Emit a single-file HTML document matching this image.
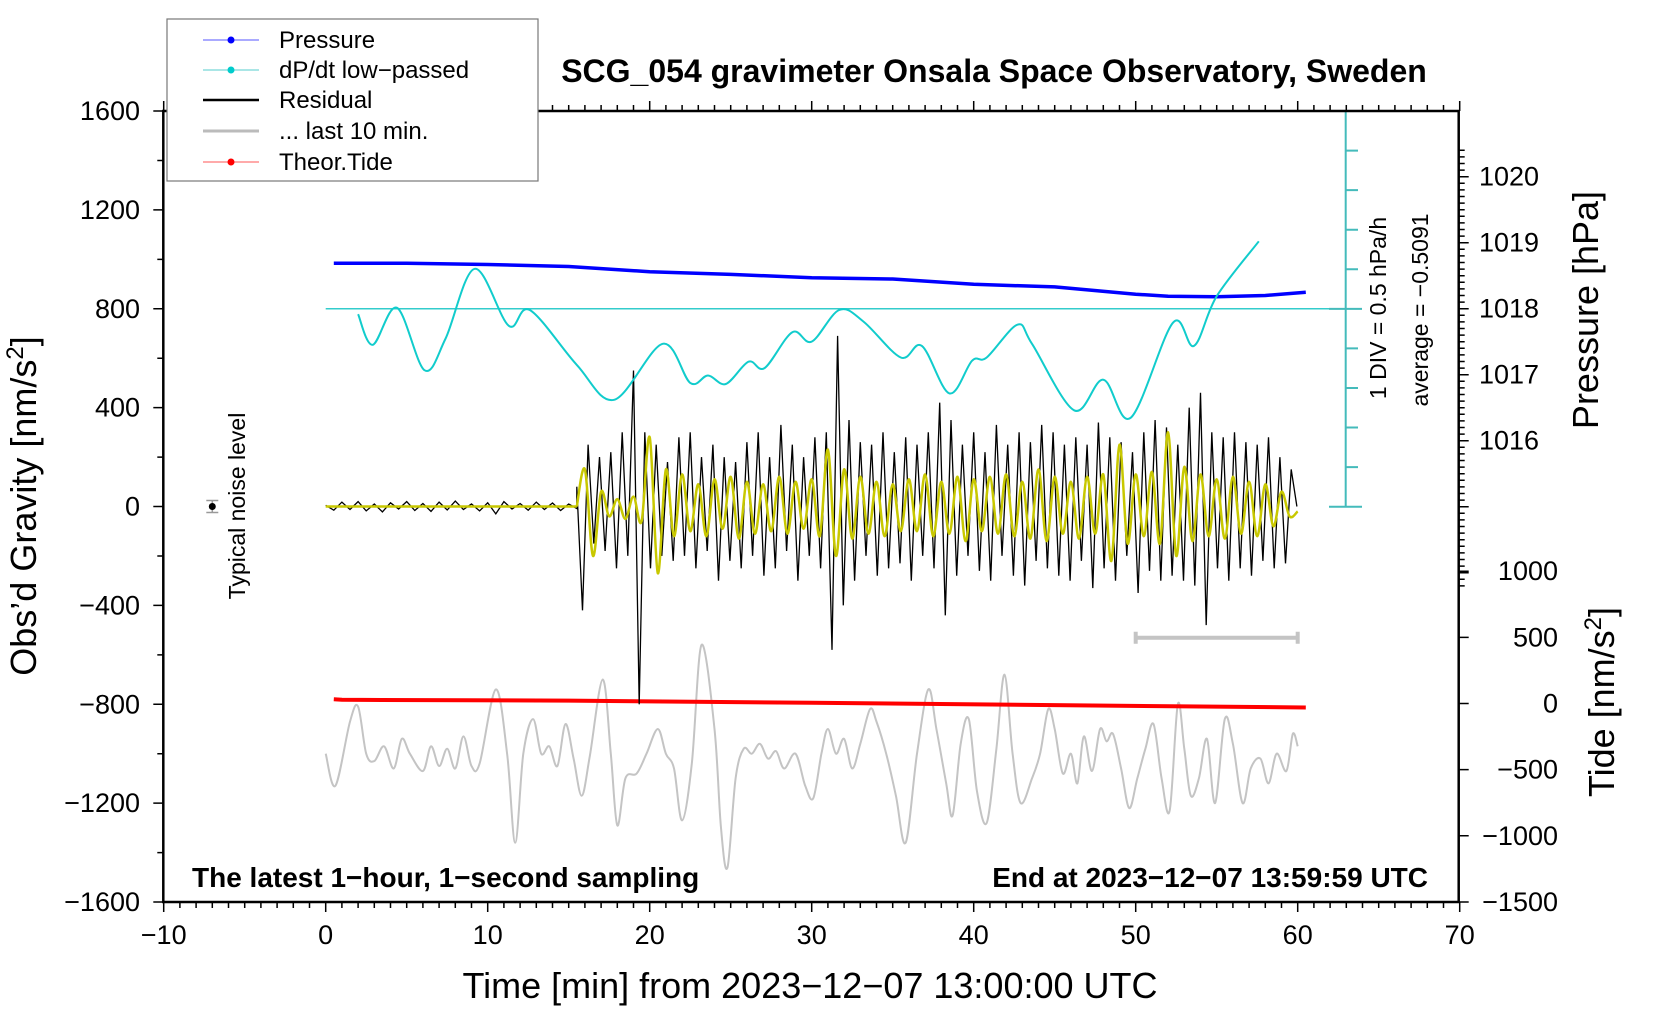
<!DOCTYPE html>
<html><head><meta charset="utf-8"><style>
html,body{margin:0;padding:0;background:#fff;}
svg{display:block;font-family:"Liberation Sans",sans-serif;}
</style></head><body>
<svg id="chart" width="1660" height="1020" viewBox="0 0 1660 1020" xmlns="http://www.w3.org/2000/svg">
<g id="marks"></g>
<g id="axes"></g>
<text x="994" y="82" font-size="32" font-weight="bold" text-anchor="middle">SCG_054 gravimeter Onsala Space Observatory, Sweden</text>
<text x="192" y="887" font-size="28" font-weight="bold">The latest 1−hour, 1−second sampling</text>
<text x="1428" y="887" font-size="28" font-weight="bold" text-anchor="end">End at 2023−12−07 13:59:59 UTC</text>
<text x="810" y="998" font-size="36" text-anchor="middle">Time [min] from 2023−12−07 13:00:00 UTC</text>
<text transform="translate(36,506) rotate(-90)" font-size="36" text-anchor="middle">Obs’d Gravity [nm/s<tspan baseline-shift="super" font-size="24">2</tspan>]</text>
<text transform="translate(1598,310) rotate(-90)" font-size="36" text-anchor="middle">Pressure [hPa]</text>
<text transform="translate(1614,702) rotate(-90)" font-size="36" text-anchor="middle">Tide [nm/s<tspan baseline-shift="super" font-size="24">2</tspan>]</text>
<text transform="translate(1386,308) rotate(-90)" font-size="23" text-anchor="middle">1 DIV = 0.5 hPa/h</text>
<text transform="translate(1428,310) rotate(-90)" font-size="23" text-anchor="middle">average = −0.5091</text>
<text transform="translate(245,506) rotate(-90)" font-size="23" text-anchor="middle">Typical noise level</text>
<g>
<rect x="167" y="19" width="371" height="162" fill="#fff" stroke="#777" stroke-width="1.2"/>
<g><line x1="203" y1="40" x2="259" y2="40" stroke="#55f" stroke-width="1"/><circle cx="231" cy="40" r="3.5" fill="#00f"/><text x="279" y="48" font-size="24">Pressure</text></g>
<g><line x1="203" y1="70" x2="259" y2="70" stroke="#5cc" stroke-width="1"/><circle cx="231" cy="70" r="3.5" fill="#0cc"/><text x="279" y="78" font-size="24">dP/dt low−passed</text></g>
<g><line x1="203" y1="100" x2="259" y2="100" stroke="#000" stroke-width="2.5"/><text x="279" y="108" font-size="24">Residual</text></g>
<g><line x1="203" y1="131" x2="259" y2="131" stroke="#bbb" stroke-width="3"/><text x="279" y="139" font-size="24">... last 10 min.</text></g>
<g><line x1="203" y1="162" x2="259" y2="162" stroke="#f55" stroke-width="1"/><circle cx="231" cy="162" r="3.5" fill="#f00"/><text x="279" y="170" font-size="24">Theor.Tide</text></g>
</g>
</svg>
<script>
// ---- data ----
const pressureTimes = [0.5, 5, 10, 15, 20, 25, 30, 35, 40, 45, 50, 52, 55, 58, 60.5];
const pressureValues = [1018.69, 1018.69, 1018.67, 1018.64, 1018.56, 1018.52, 1018.47, 1018.45, 1018.37, 1018.33, 1018.22, 1018.19, 1018.18, 1018.2, 1018.25];
const dpdtTimes = [2.0,2.9,4.4,6.1,7.4,9.2,11.3,12.6,15.5,17.8,20.8,22.5,23.6,24.7,26.1,27.1,28.8,30.0,31.7,33.2,35.5,36.8,38.5,39.9,40.8,42.7,43.6,46.2,48.0,49.7,52.3,53.6,55.0,57.6];
const dpdtValues = [-0.579,-0.966,-0.498,-1.287,-0.886,-0.004,-0.726,-0.525,-1.220,-1.662,-0.953,-1.448,-1.355,-1.462,-1.180,-1.260,-0.806,-0.926,-0.525,-0.672,-1.127,-0.980,-1.581,-1.167,-1.127,-0.712,-0.953,-1.795,-1.408,-1.889,-0.686,-0.980,-0.351,0.344];
const dpdtAverage = -0.5091;
const quietResidual = [5,-15,18,-12,20,-18,10,-22,15,-10,20,-16,12,-20,18,-14,22,-12,10,-18,15,-30,20,-10,12,-15,18,-12,14,-16,10,-8];
const activeResidual = [80,-420,250,-150,200,-180,220,-250,300,-200,550,-800,300,-250,250,-200,180,-220,280,-200,300,-250,200,-180,250,-300,200,-220,180,-250,260,-200,300,-280,200,-250,330,-180,250,-300,200,-200,280,-250,300,-580,690,-400,350,-300,260,-200,250,-280,300,-250,220,-230,280,-300,250,-200,300,-250,420,-440,350,-280,250,-200,300,-260,220,-300,330,-200,250,-280,300,-320,260,-220,330,-250,300,-280,250,-300,280,-220,250,-330,340,-250,280,-300,260,-200,220,-350,300,-260,350,-300,320,-280,250,-300,400,-320,460,-480,300,-250,280,-300,300,-250,260,-280,250,-220,280,-250,200,-230,150,0];
const filteredResidual = [0,150,-200,60,-40,30,-50,40,-60,280,-270,150,-120,130,-100,90,-120,110,-90,120,-130,100,-110,90,-100,120,-110,100,-90,110,-120,230,-200,150,-130,120,-110,100,-120,90,-100,110,-100,130,-120,100,-110,120,-140,110,-100,120,-110,130,-120,100,-130,150,-140,120,-110,100,-130,120,-110,130,-220,250,-150,130,-120,140,-150,300,-200,160,-140,130,-120,110,-130,120,-110,100,-120,90,-80,60,-40,-20];
const lastTimes = [0,0.6,1.5,2.0,2.5,3.0,3.6,4.2,4.7,5.2,6.0,6.5,7.0,7.5,8.0,8.5,9.0,9.5,10.5,11.2,11.7,12.2,12.8,13.3,13.8,14.3,14.8,15.3,15.8,16.3,17.1,17.6,18.0,18.5,19.2,19.8,20.5,21,21.5,22,22.6,23.2,24.0,24.4,24.8,25.3,25.8,26.3,26.8,27.3,27.8,28.3,29.0,29.6,30.1,30.6,31.0,31.5,32.0,32.5,33.0,33.6,34.0,34.6,35.2,35.8,36.5,37.2,37.7,38.3,38.7,39.2,39.7,40.2,40.8,41.4,41.9,42.4,42.9,43.6,44.1,44.6,45.0,45.5,46.0,46.4,46.8,47.3,47.8,48.2,48.6,49.1,49.6,50.1,50.6,51.1,51.6,52.1,52.6,53.0,53.4,53.9,54.4,54.9,55.5,56.0,56.6,57.1,57.7,58.2,58.7,59.3,59.7,60.0];
const lastValues = [-1000,-1130,-870,-810,-1000,-1030,-970,-1060,-940,-1000,-1070,-970,-1050,-980,-1060,-930,-1050,-1040,-740,-1000,-1360,-1000,-860,-1000,-970,-1050,-880,-1020,-1170,-1010,-700,-1000,-1290,-1100,-1080,-1000,-900,-1000,-1060,-1270,-1040,-560,-900,-1300,-1460,-1100,-980,-1000,-960,-1020,-990,-1060,-1000,-1130,-1180,-1000,-900,-1000,-940,-1060,-960,-820,-870,-1000,-1170,-1360,-1000,-740,-900,-1120,-1250,-960,-860,-1150,-1280,-980,-680,-1000,-1200,-1100,-1000,-820,-900,-1080,-1000,-1120,-930,-1070,-900,-950,-920,-1060,-1220,-1100,-980,-880,-1100,-1230,-800,-980,-1170,-1100,-940,-1200,-860,-960,-1200,-1060,-1020,-1120,-1000,-1070,-920,-970];
const tideTimes = [0.5, 1, 15, 30, 45, 60.5];
const tideValues = [32, 28, 22, 5, -12, -30];
const xTicks = [-10,0,10,20,30,40,50,60,70];
const yTicks = [-1600,-1200,-800,-400,0,400,800,1200,1600];
const pTicks = [1016,1017,1018,1019,1020];
const tTicks = [-1500,-1000,-500,0,500,1000];

// ---- scales ----
const X0=163.3, X1=1458.7, Y0=111, Y1=902;
const xs = t => 325.7 + 16.2*t;
const yg = g => 506.5 - g*(Y1-Y0)/3200;
const yp = p => 308.7 - (p-1018)*66;
const yt = v => 703.5 - v*0.1323;
const yd = v => 308.7 - (v-dpdtAverage)/0.5*39.5;
const NS='http://www.w3.org/2000/svg';
const marks=document.getElementById('marks'), axes=document.getElementById('axes');
function mk(tag, attrs, parent){const e=document.createElementNS(NS,tag);for(const k in attrs)e.setAttribute(k,attrs[k]);parent.appendChild(e);return e;}
function smoothPath(pts){
  let d='M'+pts[0][0].toFixed(1)+','+pts[0][1].toFixed(1);
  for(let i=0;i<pts.length-1;i++){
    const p0=pts[Math.max(0,i-1)],p1=pts[i],p2=pts[i+1],p3=pts[Math.min(pts.length-1,i+2)];
    const c1=[p1[0]+(p2[0]-p0[0])/6,p1[1]+(p2[1]-p0[1])/6],c2=[p2[0]-(p3[0]-p1[0])/6,p2[1]-(p3[1]-p1[1])/6];
    d+='C'+c1.map(v=>v.toFixed(1))+' '+c2.map(v=>v.toFixed(1))+' '+p2[0].toFixed(1)+','+p2[1].toFixed(1);
  }
  return d;
}
function linePath(pts){return 'M'+pts.map(p=>p[0].toFixed(1)+','+p[1].toFixed(1)).join('L');}

let el=mk('path',{d:smoothPath(lastTimes.map((t,i)=>[xs(t),yg(lastValues[i])])),fill:'none',stroke:'#c4c4c4','stroke-width':2},marks);


el=mk('path',{d:`M${xs(50)},${yg(-531)}H${xs(60)}M${xs(50)},${yg(-531)-6}v12M${xs(60)},${yg(-531)-6}v12`,stroke:'#c4c4c4','stroke-width':4,fill:'none'},marks);


el=mk('path',{d:linePath(tideTimes.map((t,i)=>[xs(t),yt(tideValues[i])])),fill:'none',stroke:'#f00','stroke-width':4},marks);


const resPts=[];
quietResidual.forEach((v,i)=>resPts.push([xs(i*0.5),yg(v)]));
activeResidual.forEach((v,i)=>resPts.push([xs(15.5+i*0.35),yg(v)]));
el=mk('path',{d:linePath(resPts),fill:'none',stroke:'#000','stroke-width':1.3},marks);


el=mk('path',{d:smoothPath(filteredResidual.map((v,i)=>[xs(15.5+i*0.5),yg(v)])),fill:'none',stroke:'#c8c800','stroke-width':2.5},marks);


el=mk('path',{d:`M${xs(0)},${yg(0)}H${xs(15.5)}`,stroke:'#c8c800','stroke-width':2.5},marks);


el=mk('path',{d:linePath(pressureTimes.map((t,i)=>[xs(t),yp(pressureValues[i])])),fill:'none',stroke:'#00f','stroke-width':3.5},marks);


el=mk('line',{x1:xs(0),y1:yd(dpdtAverage),x2:1362,y2:yd(dpdtAverage),stroke:'#3cc','stroke-width':1.5},marks);


el=mk('path',{d:smoothPath(dpdtTimes.map((t,i)=>[xs(t),yd(dpdtValues[i])])),fill:'none',stroke:'#1cc','stroke-width':2},marks);


let dv='M1345.7,111V507';
for(let k=0;k<=10;k++){const y=111+k*39.57;dv+=(k%5===0)?`M1329,${y}H1362`:`M1345.7,${y}H1358`;}
el=mk('path',{d:dv,stroke:'#4bb','stroke-width':2,fill:'none'},marks);


el=mk('path',{d:`M${xs(-7)-6},${yg(0)-6}h12M${xs(-7)-6},${yg(0)+6}h12M${xs(-7)},${yg(0)-6}v12`,stroke:'#999','stroke-width':1.5},marks);


el=mk('circle',{cx:xs(-7),cy:yg(0),r:3.5,fill:'#000'},marks);



el=mk('rect',{x:X0,y:Y0,width:X1-X0,height:Y1-Y0,fill:'none',stroke:'#000','stroke-width':2.5},axes);


let td='';
for(let t=-10;t<=70;t++){const x=xs(t);const L=(t%10===0)?10:6;td+=`M${x},${Y1}v${L}M${x},${Y0}v${-L}`;}
for(let g=-1600;g<=1600;g+=200){const y=yg(g);td+=`M${X0},${y}h${g%400===0?-10:-6}`;}
for(let p=1013.8;p<=1020.5;p+=0.1){const y=yp(p);if(y<Y0-0.5||y>Y1+0.5)continue;const m=Math.abs(p-Math.round(p))<0.01;td+=`M${X1},${y}h${m?10:6}`;}
tTicks.forEach(v=>{td+=`M${X1},${yt(v)}h10`;});
el=mk('path',{d:td,stroke:'#000','stroke-width':1.5,fill:'none'},axes);


xTicks.forEach(t=>{const e=mk('text',{x:xs(t),y:944,'font-size':27,'text-anchor':'middle'},axes);e.textContent=String(t).replace('-','−');

});
yTicks.forEach(g=>{const e=mk('text',{x:140,y:yg(g)+9,'font-size':27,'text-anchor':'end'},axes);e.textContent=String(g).replace('-','−');

});
pTicks.forEach(p=>{const e=mk('text',{x:1479,y:yp(p)+9,'font-size':27},axes);e.textContent=String(p);

});
tTicks.forEach(v=>{const e=mk('text',{x:1558,y:yt(v)+9,'font-size':27,'text-anchor':'end'},axes);e.textContent=String(v).replace('-','−');

});
</script>
</body></html>
